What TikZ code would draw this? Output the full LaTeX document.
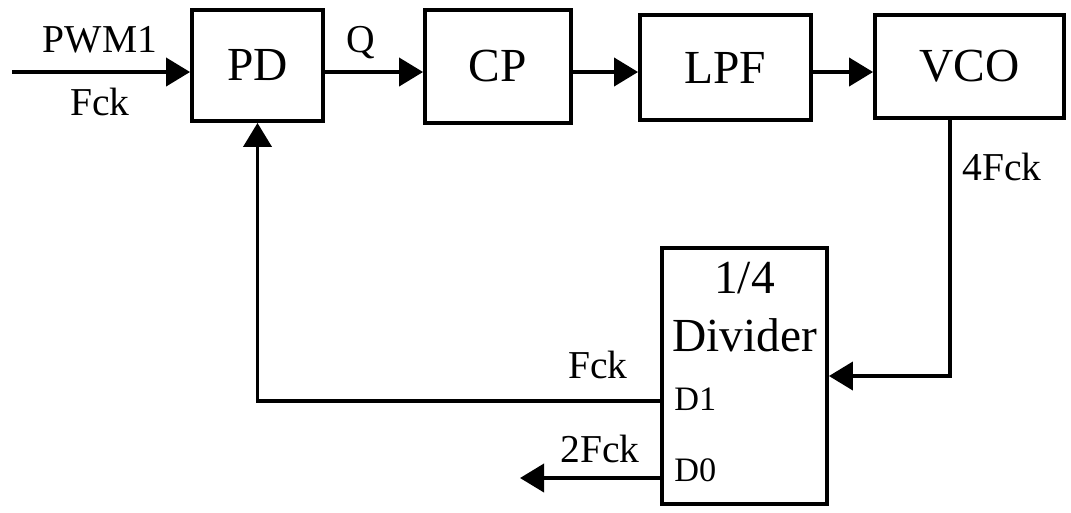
\documentclass[tikz,border=0pt]{standalone}
\usepackage{fontspec}
\setmainfont{Liberation Serif}
\usepackage{tikz}
\usetikzlibrary{arrows.meta}

\tikzset{
  blk/.style={draw, line width=2.2pt, inner sep=0pt, font=\fontsize{27}{32}\selectfont},
  arr/.style={line width=2.2pt, -{Triangle[length=0.48cm,width=0.56cm]}},
  wire/.style={line width=2.2pt},
  lbl/.style={anchor=base, inner sep=0pt, font=\fontsize{22.5}{26}\selectfont},
  pin/.style={anchor=base west, inner sep=0pt, font=\fontsize{19.5}{22}\selectfont}
}

\begin{document}
\begin{tikzpicture}[x=0.02cm,y=-0.02cm]
\useasboundingbox (0,0) rectangle (1071,512);

% loop blocks
\node[blk, minimum width=2.62cm, minimum height=2.22cm] (pd)  at (257.5,65.5) {PD};
\node[blk, minimum width=2.92cm, minimum height=2.26cm] (cp)  at (498,66.5)   {CP};
\node[blk, minimum width=3.42cm, minimum height=2.10cm] (lpf) at (725.5,67.5) {LPF};
\node[blk, minimum width=3.78cm, minimum height=2.06cm] (vco) at (969.5,66.5) {VCO};
\node[blk, minimum width=3.30cm, minimum height=5.12cm] (div) at (744.5,376)  {};

\node[blk, draw=none, anchor=base] (divtop)  at (744.5,293) {1/4};
\node[blk, draw=none, anchor=base] (divname) at (744.5,351) {Divider};
\node[pin] (d1) at (674,410) {D1};
\node[pin] (d0) at (674,481) {D0};

% forward path
\coordinate (in) at (12,72);
\draw[arr] (in) -- (in -| pd.west);
\draw[arr] (in -| pd.east) -- (in -| cp.west);
\draw[arr] (in -| cp.east) -- (in -| lpf.west);
\draw[arr] (in -| lpf.east) -- (in -| vco.west);

% feedback through the divider
\draw[arr] ([xshift=-0.39cm]vco.south) |- (div.east);
\draw[arr] ([yshift=-0.5cm]div.west) -| (pd.south);
\coordinate (out) at (520,478);
\draw[arr] ([yshift=-2.04cm]div.west) -- (out);

% signal names
\node[lbl] (pwm) at (100,52)  {PWM1};
\node[lbl] (fin) at (100,115) {Fck};
\node[lbl] (q)   at (361,52)  {Q};
\node[lbl, anchor=base west] (f4) at (962,180) {4Fck};
\node[lbl] (f1)  at (598,378) {Fck};
\node[lbl] (f2)  at (600,462) {2Fck};
\end{tikzpicture}
\end{document}
